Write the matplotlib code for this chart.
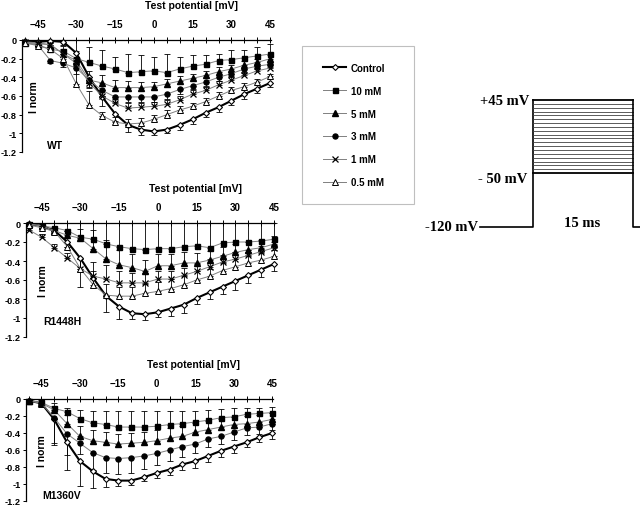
import matplotlib.pyplot as plt
from matplotlib.patches import Rectangle
import numpy as np

plt.rcParams['font.family'] = ['Liberation Sans', 'DejaVu Sans']
plt.rcParams['font.weight'] = 'bold'

# test potentials (mV)
test_mv = [-50, -45, -40, -35, -30, -25, -20, -15, -10, -5,
           0, 5, 10, 15, 20, 25, 30, 35, 40, 45]
x_ticks = [-45, -30, -15, 0, 15, 30, 45]
y_ticks = [0, -0.2, -0.4, -0.6, -0.8, -1, -1.2]
y_tick_labels = ['0', '-0.2', '-0.4', '-0.6', '-0.8', '-1', '-1.2']
series_names = ['Control', '10 mM', '5 mM', '3 mM', '1 mM', '0.5 mM']

# WT
wt_control = [-0.01, -0.02, -0.01, -0.02, -0.14, -0.40, -0.61, -0.79, -0.91, -0.96,
              -0.98, -0.96, -0.91, -0.85, -0.78, -0.72, -0.65, -0.58, -0.52, -0.46]
wt_10 = [-0.03, -0.05, -0.10, -0.12, -0.20, -0.24, -0.28, -0.31, -0.35, -0.34,
         -0.33, -0.35, -0.31, -0.28, -0.26, -0.22, -0.21, -0.19, -0.17, -0.15]
wt_5 = [-0.02, -0.03, -0.05, -0.15, -0.22, -0.43, -0.46, -0.51, -0.51, -0.51,
        -0.50, -0.47, -0.44, -0.41, -0.38, -0.34, -0.31, -0.27, -0.24, -0.20]
wt_3 = [-0.03, -0.05, -0.22, -0.25, -0.30, -0.43, -0.54, -0.61, -0.61, -0.61,
        -0.61, -0.58, -0.53, -0.49, -0.45, -0.40, -0.36, -0.31, -0.28, -0.26]
wt_1 = [-0.02, -0.04, -0.05, -0.15, -0.25, -0.46, -0.60, -0.68, -0.73, -0.72,
        -0.71, -0.69, -0.64, -0.58, -0.54, -0.48, -0.43, -0.38, -0.33, -0.30]
wt_05 = [-0.03, -0.06, -0.10, -0.20, -0.47, -0.70, -0.81, -0.88, -0.90, -0.89,
         -0.85, -0.80, -0.75, -0.71, -0.66, -0.60, -0.54, -0.50, -0.45, -0.39]

wt_control_err = [0.02, 0.02, 0.02, 0.03, 0.05, 0.10, 0.10, 0.08, 0.08, 0.06,
                  0.04, 0.04, 0.05, 0.05, 0.05, 0.05, 0.05, 0.05, 0.05, 0.04]
wt_10_err = [0.02, 0.03, 0.04, 0.06, 0.20, 0.16, 0.17, 0.13, 0.20, 0.18,
             0.15, 0.20, 0.13, 0.12, 0.10, 0.07, 0.10, 0.08, 0.09, 0.11]
wt_5_err = [0.02, 0.02, 0.03, 0.05, 0.10, 0.10, 0.08, 0.08, 0.07, 0.06,
            0.05, 0.05, 0.05, 0.05, 0.05, 0.05, 0.04, 0.04, 0.04, 0.04]
wt_3_err = [0.02, 0.02, 0.03, 0.04, 0.06, 0.08, 0.06, 0.05, 0.05, 0.05,
            0.05, 0.05, 0.05, 0.04, 0.04, 0.04, 0.04, 0.04, 0.03, 0.03]
wt_1_err = [0.02, 0.02, 0.03, 0.04, 0.06, 0.06, 0.06, 0.05, 0.05, 0.05,
            0.05, 0.05, 0.04, 0.04, 0.04, 0.04, 0.04, 0.04, 0.03, 0.03]
wt_05_err = [0.02, 0.02, 0.03, 0.05, 0.20, 0.15, 0.04, 0.05, 0.05, 0.05,
             0.05, 0.05, 0.04, 0.04, 0.04, 0.04, 0.04, 0.04, 0.03, 0.03]

# R1448H
r_control = [-0.01, -0.03, -0.08, -0.20, -0.37, -0.58, -0.77, -0.88, -0.95, -0.96,
             -0.94, -0.90, -0.86, -0.79, -0.73, -0.67, -0.61, -0.55, -0.49, -0.43]
r_10 = [-0.01, -0.03, -0.05, -0.08, -0.15, -0.17, -0.22, -0.25, -0.27, -0.28,
        -0.27, -0.27, -0.25, -0.24, -0.26, -0.21, -0.20, -0.20, -0.19, -0.17]
r_5 = [-0.01, -0.03, -0.08, -0.13, -0.16, -0.27, -0.38, -0.44, -0.47, -0.51,
       -0.45, -0.45, -0.42, -0.42, -0.39, -0.35, -0.31, -0.28, -0.26, -0.22]
r_1 = [-0.07, -0.15, -0.26, -0.37, -0.48, -0.56, -0.59, -0.63, -0.63, -0.63,
       -0.59, -0.59, -0.55, -0.51, -0.46, -0.41, -0.38, -0.34, -0.30, -0.26]
r_05 = [-0.02, -0.05, -0.09, -0.25, -0.48, -0.65, -0.76, -0.77, -0.77, -0.74,
        -0.72, -0.69, -0.65, -0.60, -0.56, -0.50, -0.46, -0.42, -0.39, -0.35]

r_control_err = [0.02, 0.02, 0.03, 0.05, 0.30, 0.10, 0.17, 0.13, 0.06, 0.06,
                 0.05, 0.08, 0.09, 0.06, 0.07, 0.08, 0.09, 0.08, 0.08, 0.08]
r_10_err = [0.01, 0.03, 0.05, 0.08, 0.15, 0.17, 0.22, 0.25, 0.27, 0.28,
            0.27, 0.27, 0.25, 0.24, 0.26, 0.21, 0.20, 0.20, 0.19, 0.17]
r_5_err = [0.02, 0.02, 0.03, 0.05, 0.10, 0.20, 0.20, 0.16, 0.14, 0.12,
           0.12, 0.12, 0.12, 0.10, 0.10, 0.10, 0.09, 0.08, 0.08, 0.08]
r_1_err = [0.02, 0.03, 0.04, 0.05, 0.10, 0.15, 0.15, 0.12, 0.10, 0.10,
           0.09, 0.09, 0.08, 0.08, 0.08, 0.07, 0.07, 0.06, 0.06, 0.06]
r_05_err = [0.02, 0.02, 0.03, 0.05, 0.10, 0.15, 0.12, 0.10, 0.10, 0.10,
            0.10, 0.10, 0.09, 0.09, 0.08, 0.08, 0.08, 0.07, 0.07, 0.07]

# M1360V
m_control = [-0.02, -0.05, -0.24, -0.51, -0.73, -0.85, -0.94, -0.96, -0.96, -0.92,
             -0.87, -0.83, -0.77, -0.73, -0.67, -0.61, -0.56, -0.51, -0.45, -0.40]
m_10 = [-0.02, -0.04, -0.11, -0.15, -0.23, -0.28, -0.30, -0.33, -0.33, -0.33,
        -0.32, -0.30, -0.29, -0.27, -0.25, -0.22, -0.21, -0.18, -0.17, -0.16]
m_5 = [-0.02, -0.05, -0.13, -0.29, -0.44, -0.49, -0.51, -0.53, -0.52, -0.51,
       -0.49, -0.46, -0.44, -0.39, -0.36, -0.33, -0.30, -0.29, -0.27, -0.24]
m_3 = [-0.02, -0.05, -0.22, -0.41, -0.52, -0.63, -0.69, -0.70, -0.69, -0.67,
       -0.64, -0.60, -0.56, -0.53, -0.47, -0.44, -0.39, -0.34, -0.33, -0.29]

m_control_err = [0.02, 0.04, 0.30, 0.32, 0.29, 0.20, 0.10, 0.06, 0.05, 0.05,
                 0.06, 0.06, 0.07, 0.08, 0.07, 0.07, 0.07, 0.06, 0.06, 0.07]
m_10_err = [0.02, 0.04, 0.06, 0.05, 0.10, 0.14, 0.16, 0.19, 0.19, 0.19,
            0.18, 0.16, 0.15, 0.13, 0.12, 0.10, 0.10, 0.08, 0.07, 0.07]
m_5_err = [0.02, 0.04, 0.05, 0.10, 0.12, 0.12, 0.12, 0.12, 0.12, 0.12,
           0.12, 0.12, 0.12, 0.11, 0.10, 0.10, 0.09, 0.09, 0.08, 0.08]
m_3_err = [0.02, 0.04, 0.30, 0.25, 0.13, 0.20, 0.18, 0.18, 0.18, 0.15,
           0.14, 0.13, 0.12, 0.10, 0.10, 0.09, 0.09, 0.08, 0.08, 0.08]

# which side of the mean the error bar is drawn on
err_side = {'Control': 'down', '10 mM': 'up', '5 mM': 'up',
            '3 mM': 'down', '1 mM': 'up', '0.5 mM': 'up'}

styles = {
    'Control': dict(marker='D', ms=3.0, mfc='white', mec='black', mew=0.8, color='black', lw=1.5),
    '10 mM': dict(marker='s', ms=3.6, mfc='black', mec='black', color='0.5', lw=0.7),
    '5 mM': dict(marker='^', ms=4.0, mfc='black', mec='black', color='0.5', lw=0.7),
    '3 mM': dict(marker='o', ms=3.6, mfc='black', mec='black', color='0.5', lw=0.7),
    '1 mM': dict(marker='x', ms=3.8, mec='black', mew=0.9, color='0.5', lw=0.7),
    '0.5 mM': dict(marker='^', ms=4.0, mfc='white', mec='black', mew=0.7, color='0.5', lw=0.7),
}

panels = [
    dict(name='WT', rect=(22, 41, 249, 112), ylab=0.05, name_xy=(0.1, 0.06),
         data={'Control': (wt_control, wt_control_err), '10 mM': (wt_10, wt_10_err),
               '5 mM': (wt_5, wt_5_err), '3 mM': (wt_3, wt_3_err),
               '1 mM': (wt_1, wt_1_err), '0.5 mM': (wt_05, wt_05_err)}),
    dict(name='R1448H', rect=(26, 224, 249, 114), ylab=0.07, name_xy=(0.07, 0.14),
         data={'Control': (r_control, r_control_err), '10 mM': (r_10, r_10_err),
               '5 mM': (r_5, r_5_err), '1 mM': (r_1, r_1_err),
               '0.5 mM': (r_05, r_05_err)}),
    dict(name='M1360V', rect=(26, 400, 247, 102), ylab=0.065, name_xy=(0.065, 0.06),
         data={'Control': (m_control, m_control_err), '10 mM': (m_10, m_10_err),
               '5 mM': (m_5, m_5_err), '3 mM': (m_3, m_3_err)}),
]

W, H = 640, 510
fig = plt.figure(figsize=(6.4, 5.1), dpi=100)


def px_axes(left, top, width, height):
    return fig.add_axes([left / W, 1 - (top + height) / H, width / W, height / H])


legend_handles = []
for p in panels:
    ax = px_axes(*p['rect'])
    x = np.array(test_mv)
    for name in series_names:
        if name not in p['data']:
            continue
        y, err = p['data'][name]
        err = np.array(err)
        zero = np.zeros_like(err)
        yerr = [err, zero] if err_side[name] == 'down' else [zero, err]
        ax.errorbar(x, y, yerr=yerr, fmt='none', ecolor='black', elinewidth=0.6,
                    capsize=2, capthick=0.6, clip_on=False, zorder=2)
        line, = ax.plot(x, y, label=name, clip_on=False, zorder=3, **styles[name])
        if p['name'] == 'WT':
            legend_handles.append(line)

    ax.set_xlim(-51, 45.3)
    ax.set_ylim(-1.2, 0)
    ax.spines['right'].set_visible(False)
    ax.spines['bottom'].set_visible(False)
    ax.spines['top'].set_linewidth(0.9)
    ax.spines['left'].set_linewidth(0.9)
    ax.xaxis.set_ticks_position('top')
    ax.set_xticks(x_ticks)
    ax.set_xticks(test_mv, minor=True)
    ax.tick_params(axis='x', which='both', direction='inout', length=4, width=0.7,
                   pad=6, labelsize=7)
    ax.set_yticks(y_ticks)
    ax.set_yticklabels(y_tick_labels)
    ax.tick_params(axis='y', direction='out', length=2.5, width=0.7, pad=1.2, labelsize=6.6)
    for lbl in ax.get_xticklabels() + ax.get_yticklabels():
        lbl.set_fontweight('bold')
    ax.text(p['ylab'], 0.5, 'I norm', transform=ax.transAxes, rotation=90,
            ha='center', va='center', fontsize=7.5, fontweight='bold')
    ax.text(p['name_xy'][0], p['name_xy'][1], p['name'], transform=ax.transAxes,
            ha='left', va='center', fontsize=7.5, fontweight='bold')
    # axis title above the tick labels
    left, top, width, height = p['rect']
    fig.text((left + 0.68 * width) / W, 1 - (top - 35) / H, 'Test potential [mV]',
             ha='center', va='center', fontsize=7.5, fontweight='bold')

# legend box
fig.patches.append(Rectangle((302 / W, 1 - 205 / H), 112 / W, 158 / H,
                             transform=fig.transFigure, fill=False,
                             edgecolor='0.75', lw=0.8))
fig.legend(legend_handles, series_names, loc='upper left',
           bbox_to_anchor=(318 / W, 1 - 59 / H), frameon=False, borderpad=0,
           labelspacing=1.32, handlelength=2.4, handletextpad=0.5,
           numpoints=1, prop={'weight': 'bold', 'size': 7})

# voltage protocol
pax = px_axes(470, 90, 170, 150)
pax.set_xlim(-9.45, 16.05)
pax.set_ylim(-135.9, 59.4)
pax.axis('off')
pre_t, pulse_t = -8, 15
hold_mv = -120
pax.plot([pre_t, 0, 0], [hold_mv, hold_mv, max(test_mv)], color='black', lw=1.2)
for v in test_mv:
    edge = v in (min(test_mv), max(test_mv))
    pax.plot([0, pulse_t], [v, v], color='black' if edge else '0.25',
             lw=1.3 if edge else 0.6)
pax.plot([pulse_t, pulse_t, 17], [max(test_mv), hold_mv, hold_mv], color='black', lw=1.2)

serif = dict(family=['Liberation Serif', 'DejaVu Serif'], fontweight='bold', fontsize=10.5)
pax.text(-0.6, 45, '+45 mV', ha='right', va='center', **serif)
pax.text(-0.8, -56.5, '- 50 mV', ha='right', va='center', **serif)
pax.text(-8.2, -119, '-120 mV', ha='right', va='center', **serif)
pax.text(7.35, -115, '15 ms', ha='center', va='center', **serif)

fig.savefig('out.png', dpi=100)
